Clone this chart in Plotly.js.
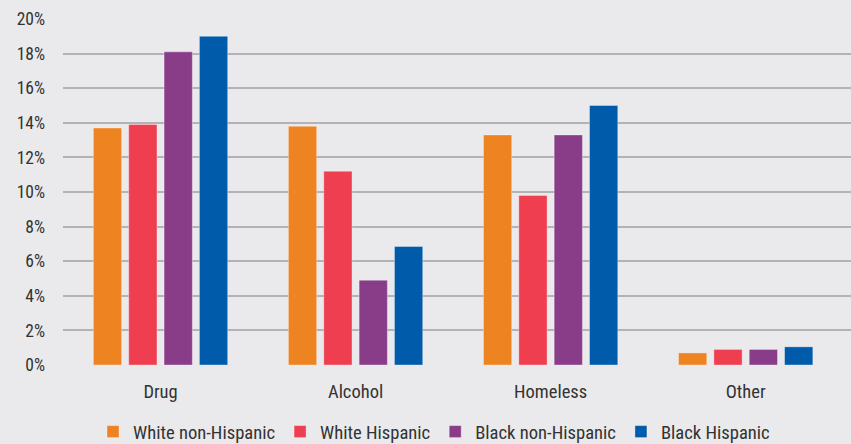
<!DOCTYPE html>
<html><head><meta charset="utf-8">
<script src="https://cdn.plot.ly/plotly-3.0.1.min.js"></script>
<style>html,body{margin:0;padding:0;background:#E9E9EB;}#chart{width:851px;height:444px;}</style>
</head><body><div id="chart"></div>
<script>
const categories = ["Drug", "Alcohol", "Homeless", "Other"];
const seriesNames = ["White non-Hispanic", "White Hispanic", "Black non-Hispanic", "Black Hispanic"];
const whiteNonHispanic = [13.7, 13.8, 13.3, 0.7];
const whiteHispanic = [13.9, 11.2, 9.8, 0.9];
const blackNonHispanic = [18.1, 4.9, 13.3, 0.9];
const blackHispanic = [19.0, 6.85, 15.0, 1.05];
const tickVals = [0, 2, 4, 6, 8, 10, 12, 14, 16, 18, 20];
const tickText = ["0%", "2%", "4%", "6%", "8%", "10%", "12%", "14%", "16%", "18%", "20%"];

const colors = ["#EE8322", "#EE3E4F", "#893D89", "#005BAA"];
const values = [whiteNonHispanic, whiteHispanic, blackNonHispanic, blackHispanic];
const font = "'Roboto Condensed', 'DejaVu Sans Condensed', sans-serif";

const traces = values.map((v, i) => ({
  type: "bar", x: categories, y: v, name: seriesNames[i],
  marker: {color: colors[i], line: {color: "rgba(255,255,255,0.35)", width: 1}},
  hoverinfo: "skip"
}));

const layout = {
  width: 851, height: 444,
  paper_bgcolor: "#EAEAEC", plot_bgcolor: "#EAEAEC",
  margin: {l: 63, r: 0, t: 19, b: 79},
  barmode: "group", bargap: 0.275, bargroupgap: 0.2,
  font: {family: font, size: 18, color: "#333333"},
  xaxis: {range: [-0.5, 3.54], showgrid: false, zeroline: false, showline: false,
          ticks: "", tickfont: {family: font, size: 18.5, color: "#333"}, ticklabelstandoff: 13},
  yaxis: {range: [0, 20], tickvals: tickVals, ticktext: tickText, showgrid: true,
          gridcolor: "#B3B3B6", gridwidth: 2, zeroline: false, showline: false, ticks: "",
          tickfont: {family: font, size: 17.5, color: "#333"}, ticklabelstandoff: 17},
  showlegend: true,
  legend: {orientation: "h", xref: "container", yref: "container", x: 93 / 851, xanchor: "left",
           y: 12 / 444, yanchor: "middle",
           font: {family: font, size: 18.6, color: "#333"}, traceorder: "normal",
           itemwidth: 30, bgcolor: "rgba(0,0,0,0)"}
};
Plotly.newPlot("chart", traces, layout, {displayModeBar: false, staticPlot: true});
</script></body></html>
